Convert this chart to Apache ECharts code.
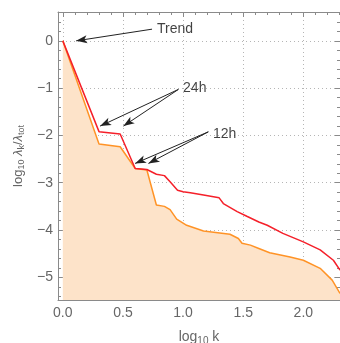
<!DOCTYPE html>
<html>
<head>
<meta charset="utf-8">
<script src="https://cdn.jsdelivr.net/npm/echarts@6/dist/echarts.min.js"></script>
<style>
html,body{margin:0;padding:0;background:#fff;}
#main{width:340px;height:343px;}
</style>
</head>
<body>
<div id="main"></div>
<script>
// log10 k / log10 eigenvalue ratio
var logK_red = [0, 0.301, 0.477, 0.602, 0.699, 0.778, 0.845, 0.892, 0.954, 1.0, 1.06, 1.17, 1.30, 1.335, 1.45, 1.53, 1.63, 1.70, 1.83, 2.0, 2.14, 2.25, 2.305];
var logL_red = [0, -1.92, -1.97, -2.70, -2.72, -2.82, -2.85, -2.98, -3.16, -3.19, -3.21, -3.26, -3.32, -3.44, -3.61, -3.71, -3.83, -3.90, -4.07, -4.25, -4.42, -4.64, -4.85];

var logK_orange = [0, 0.301, 0.477, 0.602, 0.699, 0.778, 0.845, 0.892, 0.947, 1.03, 1.17, 1.39, 1.46, 1.49, 1.56, 1.63, 1.72, 1.89, 2.0, 2.14, 2.24, 2.305];
var logL_orange = [0, -2.18, -2.24, -2.70, -2.73, -3.47, -3.50, -3.57, -3.77, -3.90, -4.02, -4.09, -4.18, -4.28, -4.32, -4.39, -4.48, -4.57, -4.64, -4.81, -5.06, -5.34];

// annotations: text position, arrow start, arrow tips
var notes = [
  {text: 'Trend', at: [0.784, 0.247], from: [0.742, 0.247], tips: [[0.111, 0.0]]},
  {text: '24h', at: [1.0, -1.0], from: [0.961, -1.027], tips: [[0.31, -1.803], [0.504, -1.803]]},
  {text: '12h', at: [1.249, -1.97], from: [1.21, -1.924], tips: [[0.601, -2.592], [0.712, -2.592]]}
];

function pairs(xs, ys){
  var out = [];
  for (var i = 0; i < xs.length; i++) out.push([xs[i], ys[i]]);
  return out;
}

var fontFam = 'Liberation Sans, Arial, sans-serif';
var frameColor = '#8a8a8a';

var labelData = [];
var arrowData = [];
for (var i = 0; i < notes.length; i++) {
  labelData.push([notes[i].at[0], notes[i].at[1], notes[i].text]);
  for (var j = 0; j < notes[i].tips.length; j++) {
    arrowData.push([{coord: notes[i].from}, {coord: notes[i].tips[j]}]);
  }
}

var myChart = echarts.init(document.getElementById('main'));

function axisBase(pos){
  return {
    type: 'value',
    position: pos,
    axisLine: {show: true, onZero: false, lineStyle: {color: frameColor, width: 1}},
    axisTick: {show: true, inside: true, length: 5, lineStyle: {color: frameColor}},
    minorTick: {show: true, splitNumber: 5, length: 3, lineStyle: {color: frameColor}},
    splitLine: {show: false}
  };
}

var xBottom = axisBase('bottom');
xBottom.min = -0.04; xBottom.max = 2.305;
xBottom.splitLine = {show: true, lineStyle: {color: '#b5b5b5', type: [1, 3], width: 1}};
xBottom.axisLabel = {
  show: true, color: '#666', fontSize: 14, fontFamily: fontFam, margin: 6,
  showMinLabel: false, showMaxLabel: false,
  formatter: function(v){ return v.toFixed(1); }
};
xBottom.name = '{n|log}{s|10}{n| k}';
xBottom.nameLocation = 'middle';
xBottom.nameGap = 29;
xBottom.nameTextStyle = {
  color: '#666', fontFamily: fontFam,
  rich: {n: {fontSize: 14, lineHeight: 17, color: '#666', fontFamily: fontFam},
         s: {fontSize: 10, lineHeight: 10, verticalAlign: 'bottom', color: '#666', fontFamily: fontFam}}
};

var xTop = axisBase('top');
xTop.min = -0.04; xTop.max = 2.305;
xTop.axisLabel = {show: false};

var yLeft = axisBase('left');
yLeft.min = -5.48; yLeft.max = 0.61;
yLeft.splitLine = {show: true, lineStyle: {color: '#b5b5b5', type: [1, 3], width: 1}};
yLeft.axisLabel = {
  show: true, color: '#666', fontSize: 14, fontFamily: fontFam, margin: 5,
  showMinLabel: false, showMaxLabel: false,
  formatter: function(v){ return v < 0 ? '\u2212' + Math.abs(v) : String(v); }
};
yLeft.name = '{n|log}{s|10}{n| }{i|λ}{s|k}{n|/}{i|λ}{s|tot}';
yLeft.nameLocation = 'middle';
yLeft.nameGap = 28;
yLeft.nameTextStyle = {
  color: '#666', fontFamily: fontFam,
  rich: {n: {fontSize: 13, lineHeight: 16, color: '#666', fontFamily: fontFam},
         i: {fontSize: 13, lineHeight: 16, fontStyle: 'italic', color: '#666', fontFamily: fontFam},
         s: {fontSize: 9, lineHeight: 9, verticalAlign: 'bottom', color: '#666', fontFamily: fontFam}}
};

var yRight = axisBase('right');
yRight.min = -5.48; yRight.max = 0.61;
yRight.axisLabel = {show: false};

option = {
  backgroundColor: '#fff',
  animation: false,
  grid: {left: 58, right: 0, top: 12, bottom: 43, containLabel: false, outerBoundsMode: 'none'},
  xAxis: [xBottom, xTop],
  yAxis: [yLeft, yRight],
  series: [
    {
      name: 'orange', type: 'line', xAxisIndex: 0, yAxisIndex: 0,
      showSymbol: false, symbol: 'none',
      lineStyle: {color: '#ff9326', width: 1.5},
      areaStyle: {color: '#fde3c9', opacity: 1, origin: 'start'},
      data: pairs(logK_orange, logL_orange)
    },
    {
      name: 'red', type: 'line', xAxisIndex: 0, yAxisIndex: 0,
      showSymbol: false, symbol: 'none',
      lineStyle: {color: '#f5202a', width: 1.5},
      data: pairs(logK_red, logL_red)
    },
    {
      name: 'notes', type: 'scatter', xAxisIndex: 0, yAxisIndex: 0,
      symbolSize: 0, silent: true,
      label: {
        show: true, position: 'right', distance: 0,
        color: '#111', fontSize: 14, fontFamily: fontFam,
        formatter: function(p){ return p.value[2]; }
      },
      data: labelData,
      markLine: {
        silent: true, animation: false,
        symbol: ['none', 'arrow'], symbolSize: [6, 11],
        label: {show: false},
        lineStyle: {color: '#222', width: 1, type: 'solid'},
        data: arrowData
      }
    }
  ]
};

myChart.setOption(option);
</script>
</body>
</html>
